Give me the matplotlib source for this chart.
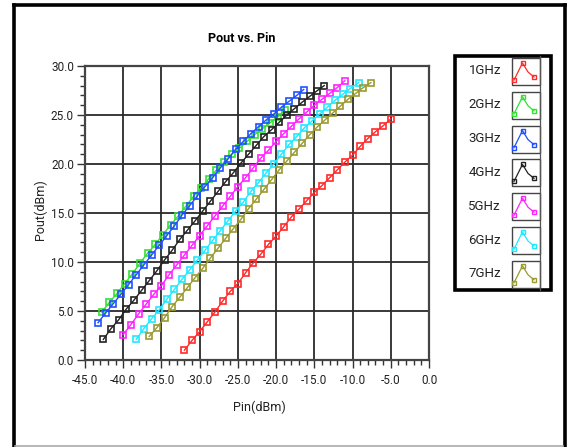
import matplotlib
matplotlib.use("Agg")
import matplotlib.pyplot as plt
from matplotlib.lines import Line2D
from matplotlib.patches import Rectangle
from matplotlib.ticker import MultipleLocator, FormatStrFormatter

W, H = 569, 447

# ---------------- data ----------------
pin_1g = [-32, -31, -30, -29, -28, -27, -26, -25, -24, -23, -22, -21, -20, -19,
          -18, -17, -16, -15, -14, -13, -12, -11, -10, -9, -8, -7, -6, -5]
pout_1g = [1.0, 2.0, 2.9, 3.9, 4.9, 6.0, 7.0, 7.8, 8.9, 9.9, 10.8, 11.8, 12.65, 13.6,
           14.6, 15.4, 16.25, 17.1, 17.8, 18.6, 19.4, 20.2, 20.9, 21.8, 22.6, 23.3, 23.9, 24.6]

pin_2g = [-42.8, -41.8, -40.8, -39.8, -38.8, -37.8, -36.8, -35.8, -34.8, -33.8, -32.8, -31.8,
          -30.8, -29.8, -28.8, -27.8, -26.8, -25.8, -24.8, -23.8, -22.8, -21.8, -20.8, -19.8, -18.9]
pout_2g = [4.9, 5.9, 6.8, 7.8, 8.8, 9.9, 10.9, 11.8, 12.8, 13.8, 14.7, 15.7,
           16.7, 17.6, 18.5, 19.4, 20.2, 21.0, 21.6, 22.3, 23.0, 23.6, 24.2, 24.8, 25.5]

pin_3g = [-43.3, -42.3, -41.3, -40.3, -39.3, -38.3, -37.3, -36.3, -35.3, -34.3, -33.3, -32.3,
          -31.3, -30.3, -29.3, -28.3, -27.3, -26.3, -25.3, -24.3, -23.3, -22.3, -21.3, -20.3,
          -19.3, -18.3, -17.3, -16.4]
pout_3g = [3.8, 4.8, 5.75, 6.7, 7.7, 8.7, 9.7, 10.7, 11.7, 12.7, 13.7, 14.8,
           15.75, 16.75, 17.7, 18.6, 19.6, 20.5, 21.5, 22.3, 23.1, 23.8, 24.5, 25.1,
           25.8, 26.4, 27.0, 27.6]

pin_4g = [-42.6, -41.6, -40.6, -39.6, -38.6, -37.6, -36.6, -35.6, -34.6, -33.6, -32.6, -31.6,
          -30.6, -29.6, -28.6, -27.6, -26.6, -25.6, -24.6, -23.6, -22.6, -21.6, -20.6, -19.6,
          -18.6, -17.6, -16.6, -15.6, -14.6, -13.7]
pout_4g = [2.1, 3.2, 4.1, 5.2, 6.1, 7.1, 8.1, 9.1, 10.2, 11.2, 12.3, 13.25,
           14.2, 15.2, 16.2, 17.2, 18.2, 19.1, 20.1, 21.0, 21.9, 22.8, 23.5, 24.25,
           25.0, 25.65, 26.3, 26.9, 27.5, 28.0]

pin_5g = [-40, -39, -38, -37, -36, -35, -34, -33, -32, -31, -30, -29, -28, -27, -26,
          -25, -24, -23, -22, -21, -20, -19, -18, -17, -16, -15, -14, -13, -12, -11]
pout_5g = [2.6, 3.6, 4.7, 5.7, 6.7, 7.6, 8.7, 9.7, 10.7, 11.7, 12.7, 13.7, 14.7, 15.7, 16.7,
           17.7, 18.6, 19.6, 20.6, 21.4, 22.3, 23.1, 23.85, 24.6, 25.3, 26.0, 26.6, 27.2, 27.8, 28.5]

pin_6g = [-38.3, -37.3, -36.3, -35.3, -34.3, -33.3, -32.3, -31.3, -30.3, -29.3, -28.3, -27.3,
          -26.3, -25.3, -24.3, -23.3, -22.3, -21.3, -20.3, -19.3, -18.3, -17.3, -16.3, -15.3,
          -14.3, -13.3, -12.3, -11.3, -10.3, -9.2]
pout_6g = [2.1, 3.2, 4.2, 5.1, 6.2, 7.2, 8.25, 9.2, 10.2, 11.2, 12.2, 13.2,
           14.2, 15.2, 16.1, 17.2, 18.1, 19.1, 20.0, 21.0, 22.0, 22.8, 23.7, 24.4,
           25.1, 25.8, 26.5, 27.1, 27.7, 28.3]

pin_7g = [-36.6, -35.6, -34.6, -33.6, -32.6, -31.6, -30.6, -29.6, -28.6, -27.6, -26.6, -25.6,
          -24.6, -23.6, -22.6, -21.6, -20.6, -19.6, -18.6, -17.6, -16.6, -15.6, -14.6, -13.6,
          -12.6, -11.6, -10.6, -9.6, -8.6, -7.6]
pout_7g = [2.4, 3.3, 4.3, 5.45, 6.4, 7.4, 8.4, 9.35, 10.4, 11.4, 12.4, 13.4,
           14.35, 15.45, 16.4, 17.4, 18.4, 19.4, 20.3, 21.2, 22.1, 23.0, 23.8, 24.5,
           25.2, 25.9, 26.6, 27.2, 27.8, 28.3]

labels = ["1GHz", "2GHz", "3GHz", "4GHz", "5GHz", "6GHz", "7GHz"]
colors = ["#ff2a2a", "#33e033", "#2050ff", "#222222", "#ff22ff", "#22e8ff", "#9a9a30"]
pins = [pin_1g, pin_2g, pin_3g, pin_4g, pin_5g, pin_6g, pin_7g]
pouts = [pout_1g, pout_2g, pout_3g, pout_4g, pout_5g, pout_6g, pout_7g]

x_ticks = [-45, -40, -35, -30, -25, -20, -15, -10, -5, 0]
y_ticks = [0, 5, 10, 15, 20, 25, 30]

FONT = "Roboto"

# ---------------- figure ----------------
fig = plt.figure(figsize=(W / 100, H / 100), dpi=100)


def fx(px):
    return px / W


def fy(py):
    return 1 - py / H


# outer frame
fig.add_artist(Line2D([fx(13.5), fx(13.5)], [fy(4.5), fy(447)], color="black", lw=2.6))
fig.add_artist(Line2D([fx(13.5), fx(564.5)], [fy(4.5), fy(4.5)], color="black", lw=2.6))
fig.add_artist(Line2D([fx(564.5), fx(564.5)], [fy(4.5), fy(447)], color="black", lw=2.6))
fig.add_artist(Line2D([fx(15), fx(563)], [fy(446), fy(446)], color="#aaaaaa", lw=1.2))

ax = fig.add_axes([fx(85), fy(360), fx(429) - fx(85), fy(66) - fy(360)])

for xs, ys, c in zip(pins, pouts, colors):
    ax.plot(xs, ys, color=c, lw=1.0, marker="s", markersize=4.3, mfc="none",
            mec=c, mew=1.2, zorder=3)

ax.set_xlim(-45, 0)
ax.set_ylim(0, 30)
ax.set_xticks(x_ticks)
ax.set_yticks(y_ticks)
ax.xaxis.set_minor_locator(MultipleLocator(1))
ax.yaxis.set_minor_locator(MultipleLocator(1))
ax.xaxis.set_major_formatter(FormatStrFormatter("%.1f"))
ax.yaxis.set_major_formatter(FormatStrFormatter("%.1f"))
ax.grid(True, which="major", color="#2a2a2a", lw=1.3)
ax.set_axisbelow(True)
for s in ax.spines.values():
    s.set_color("#444444")
    s.set_linewidth(1.6)
ax.tick_params(axis="both", which="major", length=6, width=1.0, color="#333333",
               labelsize=8.5, pad=2)
ax.tick_params(axis="both", which="minor", length=3.5, width=1.0, color="#333333")
ax.tick_params(axis="x", which="major", pad=4)
for lab in ax.get_xticklabels() + ax.get_yticklabels():
    lab.set_fontfamily(FONT)
    lab.set_color("#222222")

fig.text(fx(242), fy(39), "Pout vs. Pin", ha="center", va="center",
         fontsize=9, fontweight="bold", family=FONT)
fig.text(fx(259), fy(407), "Pin(dBm)", ha="center", va="center",
         fontsize=9, family=FONT, color="#222222")
fig.text(fx(40), fy(210), "Pout(dBm)", ha="center", va="center",
         fontsize=9, family=FONT, rotation=90, color="#222222")

# ---------------- legend panel ----------------
lx0, lx1, ly0, ly1 = 455, 551, 56, 290
fig.add_artist(Rectangle((fx(lx0), fy(ly1)), fx(lx1) - fx(lx0), fy(ly0) - fy(ly1),
                         fill=False, ec="black", lw=2.6))
fig.add_artist(Line2D([fx(539.5), fx(539.5)], [fy(ly0), fy(ly1)], color="#555555", lw=0.9))
row_h = 33.8
for i, (lab, c) in enumerate(zip(labels, colors)):
    yc = 71 + row_h * i
    fig.text(fx(501), fy(yc), lab, ha="right", va="center", fontsize=9.5,
             family=FONT, color="#222222")
    fig.add_artist(Rectangle((fx(511.5), fy(yc + 14)), fx(539.5) - fx(511.5),
                             fy(yc - 13) - fy(yc + 14), fill=False, ec="#444444", lw=1.0))
    xs = [fx(514), fx(522.5), fx(528), fx(534)]
    ys = [fy(yc + 9), fy(yc - 8), fy(yc + 1), fy(yc + 6)]
    fig.add_artist(Line2D(xs, ys, color=c, lw=0.9))
    fig.add_artist(Line2D([xs[0], xs[1], xs[3]], [ys[0], ys[1], ys[3]], ls="none",
                          marker="s", markersize=3.3, mfc="none", mec=c, mew=1.0))

fig.savefig("out.png", dpi=100)
